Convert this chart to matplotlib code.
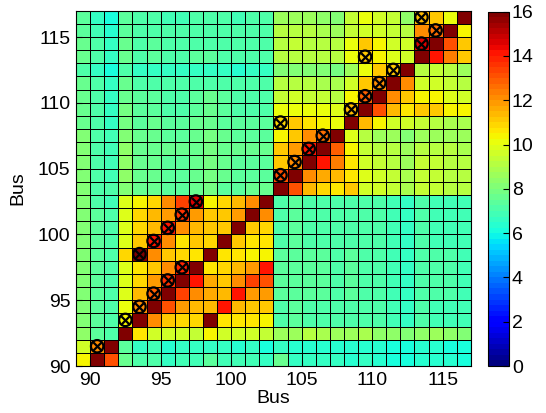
import numpy as np
import matplotlib.pyplot as plt

plt.rcParams['font.family'] = ['Liberation Sans', 'DejaVu Sans']

# cell edges (bus numbers)
bus_x = np.arange(89, 118)
bus_y = np.arange(90, 118)

# cell values, rows from bus 90 (bottom) to bus 116 (top), columns from bus 89 to 116
vals = [
    [10.3, 16, 13.0, 7.7, 7.0, 7.0, 6.7, 6.9, 6.9, 7.3, 6.9, 6.9, 6.9, 6.6, 7.6, 6.6, 6.5, 6.5, 6.5, 6.4, 6.5, 6.4, 6.2, 6.1, 6.4, 6.4, 6.3, 6.2],
    [9.6, 12.0, 16, 7.3, 6.6, 6.8, 6.3, 6.5, 6.7, 6.5, 6.6, 6.3, 6.5, 6.2, 6.5, 6.4, 6.4, 6.4, 6.3, 6.3, 6.4, 6.3, 6.1, 6.0, 6.3, 6.3, 6.2, 6.1],
    [8.3, 7.3, 7.0, 16, 10.6, 9.7, 9.5, 9.6, 9.4, 10.3, 9.6, 9.5, 9.6, 9.3, 8.6, 8.7, 9.0, 8.8, 8.6, 8.5, 8.9, 8.4, 8.3, 8.0, 8.4, 8.5, 8.3, 8.2],
    [8.2, 7.3, 7.0, 10.3, 16, 12.0, 11.2, 10.8, 10.9, 16, 10.7, 10.6, 10.5, 10.4, 7.2, 7.3, 7.2, 7.2, 7.1, 7.2, 7.1, 7.0, 6.8, 6.6, 7.0, 6.9, 6.9, 6.8],
    [8.1, 7.3, 7.0, 10.0, 12.0, 16, 13.2, 11.8, 11.3, 11.4, 14.0, 11.3, 11.1, 11.0, 7.2, 7.3, 7.2, 7.2, 7.1, 7.2, 7.1, 7.0, 6.8, 6.6, 7.0, 6.9, 6.9, 6.8],
    [8.0, 7.3, 7.0, 9.9, 11.3, 12.8, 16, 13.3, 12.2, 11.5, 11.3, 14.0, 11.8, 11.8, 7.3, 7.4, 7.3, 7.3, 7.2, 7.3, 7.2, 7.1, 6.9, 6.7, 7.1, 7.0, 7.0, 6.9],
    [8.0, 7.3, 7.0, 9.8, 10.8, 11.8, 13.5, 16, 14.0, 11.5, 11.2, 12.2, 13.3, 13.0, 7.3, 7.4, 7.3, 7.3, 7.2, 7.3, 7.2, 7.1, 6.9, 6.7, 7.1, 7.0, 7.0, 6.9],
    [8.0, 7.3, 7.0, 9.8, 10.6, 11.2, 12.2, 13.8, 16, 10.7, 10.9, 11.3, 11.8, 14.0, 7.3, 7.4, 7.3, 7.3, 7.2, 7.3, 7.2, 7.1, 6.9, 6.7, 7.1, 7.0, 7.0, 6.9],
    [8.0, 7.3, 7.0, 10.8, 16, 12.0, 11.2, 10.8, 10.5, 16, 10.6, 10.6, 10.4, 10.3, 7.3, 7.4, 7.3, 7.3, 7.2, 7.3, 7.2, 7.1, 6.9, 6.7, 7.1, 7.0, 7.0, 6.9],
    [8.0, 7.3, 7.0, 9.8, 11.2, 14.0, 12.0, 10.6, 11.0, 10.9, 16, 11.2, 10.6, 10.6, 7.2, 7.3, 7.2, 7.2, 7.1, 7.2, 7.1, 7.0, 6.8, 6.6, 7.0, 6.9, 6.9, 6.8],
    [8.0, 7.3, 7.0, 9.8, 10.8, 11.3, 14.0, 12.0, 11.3, 11.1, 11.0, 16, 11.2, 10.9, 7.2, 7.3, 7.2, 7.2, 7.1, 7.2, 7.1, 7.0, 6.8, 6.6, 7.0, 6.9, 6.9, 6.8],
    [8.0, 7.3, 7.0, 9.8, 10.8, 11.3, 11.8, 13.5, 11.9, 11.1, 11.0, 11.9, 16, 12.0, 7.2, 7.3, 7.2, 7.2, 7.1, 7.2, 7.1, 7.0, 6.8, 6.6, 7.0, 6.9, 6.9, 6.8],
    [8.0, 7.2, 6.8, 9.8, 10.3, 10.9, 12.0, 13.3, 14.5, 10.3, 10.8, 11.3, 12.0, 16, 7.2, 7.3, 7.2, 7.2, 7.1, 7.2, 7.1, 7.0, 6.8, 6.6, 7.0, 6.9, 6.9, 6.8],
    [8.0, 7.2, 7.0, 8.2, 7.5, 7.7, 7.4, 7.4, 7.7, 7.9, 7.4, 7.4, 7.5, 7.5, 16, 13.2, 11.4, 10.8, 10.5, 11.2, 9.7, 9.5, 9.3, 8.8, 9.3, 9.3, 9.2, 9.0],
    [8.0, 7.2, 6.9, 8.3, 7.5, 7.6, 7.4, 7.4, 7.6, 7.8, 7.5, 7.4, 7.4, 7.4, 13.0, 16, 12.2, 11.5, 11.3, 10.5, 9.8, 9.5, 9.3, 8.8, 9.4, 9.4, 9.2, 9.1],
    [8.0, 7.2, 6.9, 8.3, 7.5, 7.7, 7.4, 7.4, 7.7, 7.8, 7.5, 7.4, 7.4, 7.4, 11.2, 12.0, 16, 14.2, 12.3, 10.6, 9.6, 9.3, 9.2, 8.6, 9.3, 9.3, 9.2, 9.0],
    [8.1, 7.2, 6.9, 8.4, 7.6, 7.7, 7.5, 7.5, 7.7, 7.9, 7.6, 7.5, 7.5, 7.5, 11.2, 11.8, 14.2, 16, 12.8, 10.3, 9.4, 9.0, 9.0, 8.5, 9.0, 9.0, 9.0, 8.8],
    [8.0, 7.2, 6.8, 8.2, 7.5, 7.6, 7.4, 7.4, 7.6, 7.8, 7.5, 7.4, 7.4, 7.4, 10.3, 11.0, 12.0, 12.5, 16, 9.8, 9.0, 8.6, 8.6, 8.2, 8.5, 8.6, 8.6, 8.5],
    [7.7, 7.1, 6.6, 7.9, 7.4, 7.5, 7.3, 7.3, 7.5, 7.6, 7.4, 7.3, 7.3, 7.3, 10.8, 11.2, 10.7, 10.4, 10.0, 16, 11.3, 10.3, 9.7, 9.5, 9.3, 9.2, 8.9, 8.8],
    [7.6, 7.0, 6.5, 7.8, 7.3, 7.4, 7.2, 7.2, 7.4, 7.5, 7.3, 7.2, 7.2, 7.2, 10.0, 10.2, 10.1, 10.0, 9.8, 11.3, 16, 13.0, 11.3, 10.6, 11.0, 11.0, 10.4, 10.3],
    [7.6, 7.0, 6.5, 7.7, 7.3, 7.4, 7.2, 7.2, 7.4, 7.5, 7.3, 7.2, 7.2, 7.2, 9.4, 9.5, 9.4, 9.3, 9.2, 10.3, 12.8, 16, 12.0, 11.0, 10.4, 10.3, 9.8, 9.6],
    [7.5, 7.0, 6.5, 7.5, 7.2, 7.2, 7.1, 7.1, 7.2, 7.2, 7.2, 7.1, 7.1, 7.1, 9.0, 9.0, 9.0, 8.9, 8.8, 9.5, 11.0, 12.0, 16, 12.0, 9.6, 9.6, 9.4, 9.2],
    [7.2, 6.6, 6.1, 7.0, 6.6, 6.7, 6.5, 6.5, 6.6, 6.6, 6.5, 6.4, 6.5, 6.5, 8.2, 8.2, 8.1, 8.0, 7.9, 8.7, 10.1, 11.0, 11.2, 16, 9.2, 9.4, 9.1, 8.6],
    [7.5, 7.0, 6.5, 7.7, 7.2, 7.3, 7.2, 7.2, 7.3, 7.3, 7.2, 7.1, 7.2, 7.1, 9.1, 9.2, 9.1, 9.0, 9.0, 10.0, 11.2, 10.3, 9.8, 9.6, 16, 14.0, 12.3, 11.2],
    [7.5, 7.0, 6.5, 7.6, 7.2, 7.3, 7.1, 7.1, 7.2, 7.2, 7.2, 7.1, 7.1, 7.1, 9.2, 9.3, 9.2, 9.1, 9.0, 10.1, 11.0, 10.3, 9.7, 9.6, 14.5, 16, 13.0, 11.2],
    [7.4, 6.9, 6.4, 7.4, 7.1, 7.1, 7.0, 7.0, 7.0, 7.1, 7.1, 7.0, 7.0, 7.0, 9.0, 9.0, 9.0, 8.8, 8.7, 9.4, 9.6, 9.5, 9.3, 9.2, 12.0, 12.5, 16, 10.3],
    [7.3, 6.6, 6.1, 7.4, 7.0, 7.0, 6.9, 6.9, 7.0, 7.1, 7.1, 6.9, 7.0, 7.0, 8.6, 8.5, 8.5, 8.3, 8.2, 9.3, 10.1, 9.6, 9.3, 8.4, 11.3, 11.0, 10.2, 16],
]

# marked cells (bus at left / bottom edge of the cell)
mk_x = [90, 92, 93, 94, 95, 96, 93, 94, 95, 96, 97,
        103, 104, 105, 106, 103, 108, 109, 110, 111, 109, 113, 114, 113]
mk_y = [91, 93, 94, 95, 96, 97, 98, 99, 100, 101, 102,
        104, 105, 106, 107, 108, 109, 110, 111, 112, 113, 114, 115, 116]

fig = plt.figure(figsize=(5.46, 4.13), dpi=100)
ax = fig.add_axes([0.1392, 0.1138, 0.7231, 0.8603])

cmap = plt.get_cmap('jet', 64)
mesh = ax.pcolormesh(bus_x, bus_y, np.array(vals), cmap=cmap, vmin=0, vmax=16,
                     edgecolors='k', linewidth=0.6)

mx = np.array(mk_x) + 0.5
my = np.array(mk_y) + 0.5
ax.scatter(mx, my, s=80, facecolors='none', edgecolors='k', linewidths=1.6, zorder=3)
ax.scatter(mx, my, s=38, marker='x', c='k', linewidths=1.6, zorder=3)

ax.set_xlim(89, 117)
ax.set_ylim(90, 117)
ax.set_xticks([90, 95, 100, 105, 110, 115])
ax.set_yticks([90, 95, 100, 105, 110, 115])
ax.tick_params(direction='in', labelsize=14, length=4, pad=4)
ax.set_xlabel('Bus', fontsize=14, labelpad=1)
ax.set_ylabel('Bus', fontsize=14, labelpad=8)

cax = fig.add_axes([0.8938, 0.1138, 0.0385, 0.8579])
cb = fig.colorbar(mesh, cax=cax, ticks=range(0, 17, 2))
cb.ax.tick_params(direction='in', labelsize=14, length=4, pad=2)
cb.outline.set_linewidth(0.8)

fig.savefig('out.png', dpi=100)
